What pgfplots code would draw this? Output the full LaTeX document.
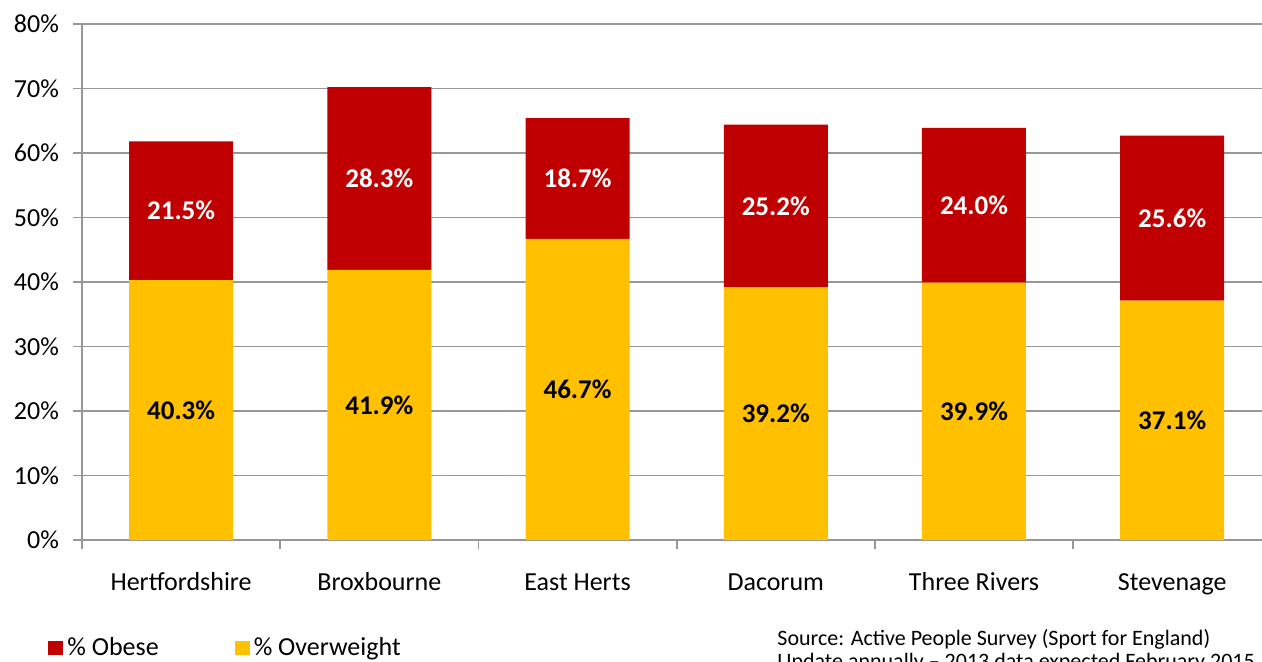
\documentclass[border=0pt]{standalone}
\usepackage{pgfplots}
\pgfplotsset{compat=1.18}
\usepackage{fontspec}
\setmainfont{Carlito}
\definecolor{obese}{HTML}{C00000}
\definecolor{over}{HTML}{FFC000}
\definecolor{gridgray}{HTML}{979797}
\pgfplotsset{
  common/.style={
    scale only axis, width=590pt, height=258pt,
    xmin=-0.5, xmax=5.453, ymin=0, ymax=80,
  }
}
\begin{document}
\begin{tikzpicture}
\begin{axis}[
  common, name=main,
  axis lines*=left,
  axis line style={gridgray, line width=0.9pt},
  ybar stacked, bar width=52pt,
  ytick={0,10,...,80},
  yticklabel={\pgfmathprintnumber{\tick}\%},
  yticklabel style={font=\fontsize{13}{15}\selectfont, xshift=-3.5pt},
  /pgf/number format/assume math mode=true,
  ymajorgrids, grid style={gridgray, line width=0.9pt},
  tick style={gridgray, line width=0.9pt},
  tick align=outside, major tick length=4.5pt,
  xtick={-0.5,0.5,1.5,2.5,3.5,4.5}, xticklabels={},
  extra x ticks={0,1,2,3,4,5},
  extra x tick labels={Hertfordshire,Broxbourne,East Herts,Dacorum,Three Rivers,Stevenage},
  extra x tick style={major tick length=0pt, xticklabel style={yshift=-12pt, text height=9.5pt, text depth=3pt}},
  xticklabel style={font=\fontsize{13}{15}\selectfont},
  legend columns=2, reverse legend,
  legend cell align=left,
  legend style={at={(axis description cs:0,0)}, anchor=west, xshift=-17pt, yshift=-54pt,
    draw=none, fill=none, inner sep=0pt, font=\fontsize{13}{15}\selectfont,
    /tikz/every even column/.append style={column sep=36pt}},
  legend image code/.code={\fill[#1] (0pt,-3.3pt) rectangle (7.5pt,3.3pt);},
]
\addplot[fill=over, draw=none] coordinates {(0,40.3) (1,41.9) (2,46.7) (3,39.2) (4,39.9) (5,37.1)};
\addlegendentry{\% Overweight}
\addplot[fill=obese, draw=none] coordinates {(0,21.5) (1,28.3) (2,18.7) (3,25.2) (4,24.0) (5,25.6)};
\addlegendentry{\% Obese}
\end{axis}
\begin{axis}[common, hide axis]
\addplot[draw=none, mark=none, nodes near coords, point meta=explicit symbolic,
  every node near coord/.style={anchor=center, font=\fontsize{13.5}{15}\selectfont\bfseries, text=black}]
  coordinates {(0,20.15)[40.3\%] (1,20.95)[41.9\%] (2,23.35)[46.7\%] (3,19.6)[39.2\%] (4,19.95)[39.9\%] (5,18.55)[37.1\%]};
\addplot[draw=none, mark=none, nodes near coords, point meta=explicit symbolic,
  every node near coord/.style={anchor=center, font=\fontsize{13.5}{15}\selectfont\bfseries, text=white}]
  coordinates {(0,51.05)[21.5\%] (1,56.05)[28.3\%] (2,56.05)[18.7\%] (3,51.8)[25.2\%] (4,51.9)[24.0\%] (5,49.9)[25.6\%]};
\end{axis}
\node[anchor=base west, font=\fontsize{11}{13}\selectfont, inner sep=0pt] at (347.5pt,-52.5pt) {Source: Active People Survey (Sport for England)};
\node[anchor=base west, font=\fontsize{11}{13}\selectfont, inner sep=0pt] at (347.5pt,-64pt) {Update annually -- 2013 data expected February 2015};
\pgfresetboundingbox
\useasboundingbox (-41pt,-60.5pt) rectangle (590pt,270pt);
\end{tikzpicture}
\end{document}
